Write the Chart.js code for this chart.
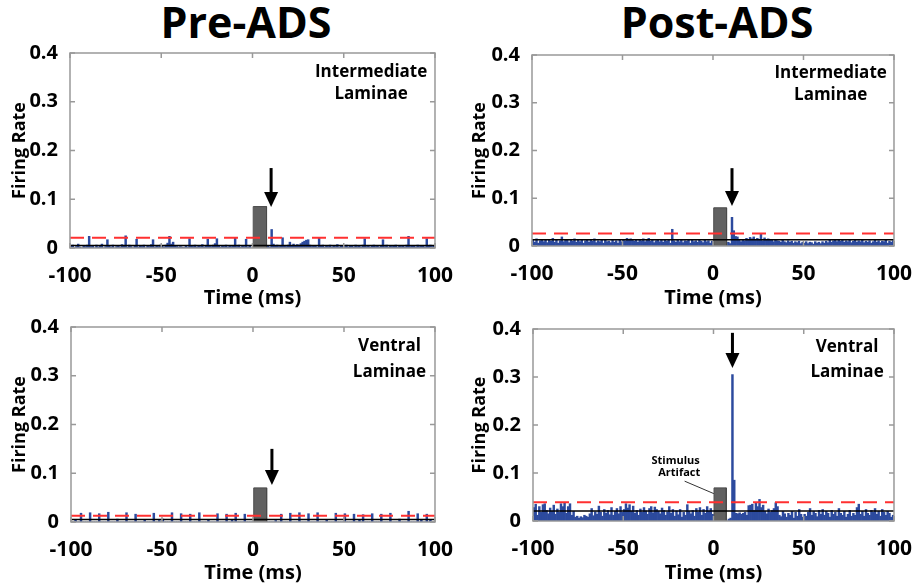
<!DOCTYPE html>
<html>
<head>
<meta charset="utf-8">
<script src="https://cdn.jsdelivr.net/npm/chart.js@4.4.0/dist/chart.umd.min.js"></script>
<style>
  body { margin: 0; width: 919px; height: 588px; background: #fff; position: relative; overflow: hidden; font-family: "Open Sans", sans-serif; }
  .box { position: absolute; }
  .head { position: absolute; top: 0; font-weight: 700; font-size: 43px; line-height: 43px; width: 300px; text-align: center; color: #000; }
</style>
</head>
<body>
<div class="head" style="left:96px">Pre-ADS</div>
<div class="head" style="left:567px">Post-ADS</div>
<div class="box" style="left:0;top:28px"><canvas id="c1" width="460" height="282"></canvas></div>
<div class="box" style="left:460px;top:28px"><canvas id="c2" width="459" height="282"></canvas></div>
<div class="box" style="left:0;top:305px"><canvas id="c3" width="460" height="280"></canvas></div>
<div class="box" style="left:460px;top:305px"><canvas id="c4" width="459" height="280"></canvas></div>
<script>
// 1 ms bins from -100 to 100 ms
const binStart = -100;
const binCount = 200;
const xTicks = [-100, -50, 0, 50, 100];
const yTicks = [0, 0.1, 0.2, 0.3, 0.4];

// Pre-ADS, intermediate laminae
const preInter = [
  0.004, 0.006, 0, 0.003, 0.008, 0.002, 0, 0.005, 0.003, 0.006,
  0.024, 0.003, 0.005, 0, 0.006, 0.002, 0.004, 0.008, 0, 0.003,
  0.017, 0.004, 0.002, 0.006, 0, 0.003, 0.005, 0.002, 0.007, 0.004,
  0.025, 0.002, 0.006, 0.003, 0, 0.004, 0.018, 0.002, 0.005, 0.003,
  0.006, 0, 0.004, 0.003, 0.007, 0.017, 0.002, 0.005, 0.003, 0.006,
  0.004, 0.002, 0.006, 0.01, 0.024, 0.008, 0.012, 0.004, 0.003, 0.002,
  0.003, 0.002, 0.001, 0.004, 0.002, 0.019, 0.005, 0.003, 0.006, 0.002,
  0.004, 0.003, 0.007, 0.002, 0.005, 0.018, 0.004, 0.003, 0.006, 0.009,
  0.019, 0.004, 0.002, 0.005, 0.003, 0.006, 0.002, 0.004, 0.003, 0.005,
  0.021, 0.003, 0.006, 0.002, 0.004, 0.003, 0.018, 0.002, 0.004, 0,
  0, 0, 0, 0, 0, 0, 0, 0, 0.004, 0.002,
  0.038, 0.008, 0.004, 0.006, 0.003, 0.005, 0.021, 0.004, 0.003, 0.006,
  0.012, 0.004, 0.008, 0.005, 0.007, 0.006, 0.009, 0.012, 0.014, 0.016,
  0.017, 0.006, 0.003, 0.005, 0.004, 0.002, 0.02, 0.004, 0.006, 0.002,
  0.005, 0.003, 0.006, 0.002, 0.004, 0.003, 0.007, 0.002, 0.005, 0.004,
  0.003, 0.006, 0.002, 0.005, 0.004, 0.002, 0.006, 0.003, 0.004, 0.002,
  0.006, 0.019, 0.003, 0.005, 0.002, 0.004, 0.006, 0.003, 0.005, 0.002,
  0.004, 0.017, 0.003, 0.006, 0.002, 0.005, 0.003, 0.004, 0.006, 0.002,
  0.005, 0.003, 0.004, 0.002, 0.006, 0.024, 0.003, 0.005, 0.004, 0.002,
  0.006, 0.003, 0.005, 0.004, 0.002, 0.019, 0.004, 0.006, 0.003, 0.005
];

// Post-ADS, intermediate laminae
const postInter = [
  0.012, 0.008, 0.015, 0.006, 0.011, 0.014, 0.009, 0.013, 0.007, 0.012,
  0.01, 0.016, 0.008, 0.013, 0.006, 0.011, 0.019, 0.009, 0.012, 0.014,
  0.007, 0.013, 0.01, 0.015, 0.008, 0.012, 0.009, 0.014, 0.006, 0.011,
  0.013, 0.008, 0.012, 0.01, 0.015, 0.007, 0.011, 0.009, 0.014, 0.006,
  0.012, 0.009, 0.01, 0.007, 0.013, 0.008, 0.011, 0.006, 0.012, 0.009,
  0.014, 0.011, 0.016, 0.013, 0.015, 0.012, 0.01, 0.014, 0.008, 0.013,
  0.011, 0.015, 0.009, 0.013, 0.016, 0.01, 0.012, 0.007, 0.011, 0.014,
  0.009, 0.012, 0.008, 0.014, 0.01, 0.013, 0.006, 0.035, 0.011, 0.008,
  0.013, 0.009, 0.012, 0.007, 0.011, 0.01, 0.014, 0.006, 0.013, 0.009,
  0.011, 0.008, 0.012, 0.01, 0.007, 0.013, 0.009, 0.011, 0.006, 0.01,
  0, 0, 0, 0, 0, 0, 0, 0, 0.008, 0.005,
  0.06, 0.032, 0.02, 0.019, 0.012, 0.009, 0.014, 0.011, 0.016, 0.013,
  0.018, 0.015, 0.019, 0.012, 0.016, 0.014, 0.025, 0.011, 0.017, 0.013,
  0.015, 0.012, 0.014, 0.009, 0.013, 0.011, 0.01, 0.008, 0.012, 0.009,
  0.007, 0.011, 0.008, 0.01, 0.006, 0.009, 0.007, 0.01, 0.005, 0.008,
  0.006, 0.009, 0.005, 0.008, 0.007, 0.004, 0.009, 0.006, 0.008, 0.005,
  0.009, 0.006, 0.01, 0.007, 0.012, 0.008, 0.011, 0.013, 0.009, 0.012,
  0.01, 0.013, 0.008, 0.011, 0.009, 0.012, 0.007, 0.01, 0.013, 0.008,
  0.011, 0.009, 0.012, 0.007, 0.01, 0.008, 0.011, 0.006, 0.009, 0.012,
  0.008, 0.011, 0.007, 0.01, 0.009, 0.012, 0.006, 0.01, 0.008, 0.011
];

// Pre-ADS, ventral laminae
const preVentral = [
  0, 0, 0.004, 0, 0, 0.018, 0, 0, 0, 0,
  0.019, 0, 0, 0, 0, 0.017, 0, 0, 0, 0,
  0.02, 0, 0, 0, 0, 0.006, 0, 0, 0, 0,
  0.019, 0, 0, 0, 0, 0.016, 0, 0, 0, 0,
  0.005, 0, 0, 0, 0, 0.018, 0, 0, 0.003, 0,
  0.006, 0, 0, 0, 0, 0.019, 0, 0, 0, 0,
  0.017, 0, 0, 0, 0, 0.016, 0, 0, 0, 0,
  0.019, 0, 0, 0, 0, 0.005, 0, 0, 0, 0,
  0.017, 0, 0, 0, 0, 0.016, 0, 0, 0.004, 0,
  0.018, 0, 0, 0, 0, 0.016, 0, 0, 0, 0,
  0, 0, 0, 0, 0, 0, 0, 0, 0, 0,
  0, 0, 0.003, 0, 0, 0.016, 0, 0, 0, 0,
  0.018, 0, 0, 0, 0, 0.019, 0, 0, 0, 0,
  0.017, 0, 0, 0, 0, 0.019, 0, 0, 0, 0,
  0.005, 0, 0, 0, 0, 0.018, 0, 0, 0, 0,
  0.017, 0, 0, 0, 0, 0.016, 0, 0, 0.004, 0,
  0.015, 0, 0, 0, 0, 0.017, 0, 0, 0, 0,
  0.016, 0, 0, 0, 0, 0.018, 0, 0, 0, 0,
  0.006, 0, 0, 0, 0, 0.022, 0, 0, 0, 0,
  0.017, 0, 0.004, 0, 0, 0.016, 0, 0.005, 0, 0
];

// Post-ADS, ventral laminae
const postVentral = [
  0.028, 0.035, 0.012, 0.03, 0.018, 0.034, 0.036, 0.022, 0.015, 0.027,
  0.02, 0.033, 0.014, 0.025, 0.018, 0.036, 0.03, 0.038, 0.016, 0.03,
  0.036, 0.012, 0.02, 0.008, 0.01, 0.006, 0.009, 0.007, 0.012, 0.01,
  0.008, 0.015, 0.026, 0.011, 0.019, 0.014, 0.031, 0.018, 0.01, 0.024,
  0.016, 0.022, 0.013, 0.028, 0.012, 0.02, 0.026, 0.015, 0.03, 0.018,
  0.024, 0.036, 0.027, 0.034, 0.02, 0.031, 0.016, 0.022, 0.012, 0.025,
  0.018, 0.028, 0.021, 0.014, 0.026, 0.03, 0.017, 0.029, 0.024, 0.02,
  0.015, 0.027, 0.022, 0.012, 0.019, 0.03, 0.016, 0.024, 0.01, 0.021,
  0.013, 0.024, 0.008, 0.018, 0.012, 0.034, 0.02, 0.015, 0.022, 0.01,
  0.026, 0.018, 0.028, 0.012, 0.024, 0.016, 0.03, 0.02, 0.026, 0.014,
  0, 0, 0, 0, 0, 0, 0, 0, 0.004, 0.006,
  0.305, 0.085, 0.016, 0.015, 0.017, 0.014, 0.016, 0.018, 0.012, 0.032,
  0.033, 0.035, 0.022, 0.037, 0.03, 0.045, 0.028, 0.033, 0.02, 0.015,
  0.025, 0.018, 0.022, 0.026, 0.038, 0.03, 0.012, 0.009, 0.02, 0.015,
  0.008, 0.016, 0.012, 0.02, 0.006, 0.018, 0.01, 0.024, 0.014, 0.008,
  0.014, 0.01, 0.018, 0.026, 0.012, 0.02, 0.016, 0.009, 0.022, 0.014,
  0.024, 0.012, 0.02, 0.016, 0.008, 0.022, 0.014, 0.018, 0.01, 0.026,
  0.016, 0.012, 0.02, 0.008, 0.014, 0.022, 0.01, 0.016, 0.012, 0.028,
  0.035, 0.014, 0.02, 0.01, 0.024, 0.016, 0.012, 0.022, 0.018, 0.026,
  0.014, 0.02, 0.01, 0.024, 0.018, 0.012, 0.02, 0.016, 0.008, 0.012
];

// threshold (red dashed), mean (black) and stimulus artifact per panel
const thresholds = [0.021, 0.026, 0.013, 0.039];
const means = [0.005, 0.013, 0.005, 0.021];
const artifactHeights = [0.085, 0.08, 0.07, 0.069];
const artifactStart = [0.4, 0.4, 0.4, 0.3];
const artifactEnd = [7.7, 7.5, 7.5, 7.1];
const regionNames = [["Intermediate", "Laminae"], ["Intermediate", "Laminae"], ["Ventral", "Laminae"], ["Ventral", "Laminae"]];
const series = [preInter, postInter, preVentral, postVentral];

const binCenters = [];
for (let i = 0; i < binCount; i++) binCenters.push(binStart + i + 0.5);

Chart.defaults.font.family = "'Open Sans', sans-serif";
Chart.defaults.color = '#000';

// layout of each panel: canvas box and the plot area inside the page
const panels = [
  { id: 'c1', left: 0, top: 28, width: 460, height: 282, area: [70, 53, 436, 248],
    arrow: [10.2, 0.164, 0.084], label: [65, 0.36, 0.315] },
  { id: 'c2', left: 460, top: 28, width: 459, height: 282, area: [532, 55, 901, 246],
    arrow: [10.5, 0.163, 0.084], label: [65, 0.362, 0.316] },
  { id: 'c3', left: 0, top: 305, width: 460, height: 280, area: [71, 327, 437, 522],
    arrow: [10.4, 0.15, 0.076], label: [75, 0.36, 0.308] },
  { id: 'c4', left: 460, top: 305, width: 459, height: 280, area: [533, 329, 901, 521],
    arrow: [10.5, 0.392, 0.319], label: [74, 0.3625, 0.31], stim: true }
];

const marksPlugin = {
  id: 'marks',
  afterDraw(chart, args, o) {
    const { ctx, chartArea: a, scales: { x, y } } = chart;
    ctx.save();
    // frame with inward ticks
    ctx.strokeStyle = '#999';
    ctx.lineWidth = 1.5;
    ctx.strokeRect(a.left, a.top, a.right - a.left, a.bottom - a.top);
    ctx.beginPath();
    x.ticks.forEach(t => {
      const px = x.getPixelForValue(t.value);
      ctx.moveTo(px, a.bottom); ctx.lineTo(px, a.bottom - 5);
      ctx.moveTo(px, a.top); ctx.lineTo(px, a.top + 5);
    });
    y.ticks.forEach(t => {
      const py = y.getPixelForValue(t.value);
      ctx.moveTo(a.left, py); ctx.lineTo(a.left + 5, py);
      ctx.moveTo(a.right, py); ctx.lineTo(a.right - 5, py);
    });
    ctx.stroke();

    // arrow
    const ax = x.getPixelForValue(o.arrow[0]);
    const top = y.getPixelForValue(o.arrow[1]);
    const tip = y.getPixelForValue(o.arrow[2]);
    ctx.strokeStyle = '#000';
    ctx.fillStyle = '#000';
    ctx.lineWidth = 3;
    ctx.beginPath();
    ctx.moveTo(ax, top); ctx.lineTo(ax, tip - 12);
    ctx.stroke();
    ctx.beginPath();
    ctx.moveTo(ax - 7, tip - 15); ctx.lineTo(ax + 7, tip - 15); ctx.lineTo(ax, tip);
    ctx.closePath(); ctx.fill();

    // region name
    ctx.font = "700 17px 'Open Sans'";
    ctx.textAlign = 'center';
    ctx.textBaseline = 'middle';
    const lx = x.getPixelForValue(o.label[0]);
    ctx.fillText(o.names[0], lx, y.getPixelForValue(o.label[1]));
    ctx.fillText(o.names[1], lx, y.getPixelForValue(o.label[2]));

    if (o.stim) {
      ctx.font = "700 11px 'Open Sans'";
      ctx.fillText('Stimulus', x.getPixelForValue(-21), y.getPixelForValue(0.125));
      ctx.fillText('Artifact', x.getPixelForValue(-19), y.getPixelForValue(0.1));
      ctx.strokeStyle = '#333';
      ctx.lineWidth = 1;
      ctx.beginPath();
      ctx.moveTo(x.getPixelForValue(-16), y.getPixelForValue(0.083));
      ctx.lineTo(x.getPixelForValue(0.2), y.getPixelForValue(0.057));
      ctx.stroke();
    }
    ctx.restore();
  }
};

panels.forEach((p, k) => {
  const vals = series[k];
  const padTop = p.area[1] - p.top;
  const padRight = p.left + p.width - p.area[2];
  const yWidth = p.area[0] - p.left;
  const xHeight = p.top + p.height - p.area[3];
  new Chart(document.getElementById(p.id), {
    type: 'bar',
    data: {
      datasets: [
        {
          type: 'line',
          data: [{ x: -100, y: thresholds[k] }, { x: 100, y: thresholds[k] }],
          borderColor: '#ff3030', borderWidth: 2, borderDash: [14, 8],
          pointRadius: 0, order: 0
        },
        {
          type: 'line',
          data: [{ x: -100, y: means[k] }, { x: 100, y: means[k] }],
          borderColor: '#000', borderWidth: 1.5, pointRadius: 0, order: 1
        },
        {
          type: 'line',
          data: [
            { x: artifactStart[k], y: 0 }, { x: artifactStart[k], y: artifactHeights[k] },
            { x: artifactEnd[k], y: artifactHeights[k] }, { x: artifactEnd[k], y: 0 }
          ],
          borderColor: '#4a4a4a', borderWidth: 1, backgroundColor: '#616161',
          borderJoinStyle: 'miter', fill: 'origin', pointRadius: 0, order: 2
        },
        {
          type: 'bar',
          data: binCenters.map((t, i) => ({ x: t, y: vals[i] })),
          backgroundColor: '#2c4a9e', borderWidth: 0,
          barPercentage: 1, categoryPercentage: 1, order: 3
        }
      ]
    },
    options: {
      responsive: false,
      animation: false,
      layout: { padding: { top: padTop, right: padRight, left: 0, bottom: 0 } },
      plugins: {
        legend: { display: false },
        tooltip: { enabled: false },
        marks: { arrow: p.arrow, label: p.label, names: regionNames[k], stim: !!p.stim }
      },
      scales: {
        x: {
          type: 'linear', min: -100, max: 100, offset: false,
          grid: { display: false }, border: { display: false },
          afterBuildTicks: s => { s.ticks = xTicks.map(v => ({ value: v })); },
          ticks: { font: { size: 21, weight: '700' }, padding: 7, maxRotation: 0 },
          title: { display: true, text: 'Time (ms)', font: { size: 20, weight: '700' }, padding: 0 },
          afterFit: s => { s.height = xHeight; }
        },
        y: {
          min: 0, max: 0.4,
          grid: { display: false }, border: { display: false },
          afterBuildTicks: s => { s.ticks = yTicks.map(v => ({ value: v })); },
          ticks: {
            font: { size: 20, weight: '700' }, padding: 4,
            callback: v => v === 0 ? '0' : v.toFixed(1)
          },
          title: { display: true, text: 'Firing Rate', font: { size: 18, weight: '700' }, padding: { top: 9, bottom: 0 } },
          afterFit: s => { s.width = yWidth; }
        }
      }
    },
    plugins: [marksPlugin]
  });
});
</script>
</body>
</html>
